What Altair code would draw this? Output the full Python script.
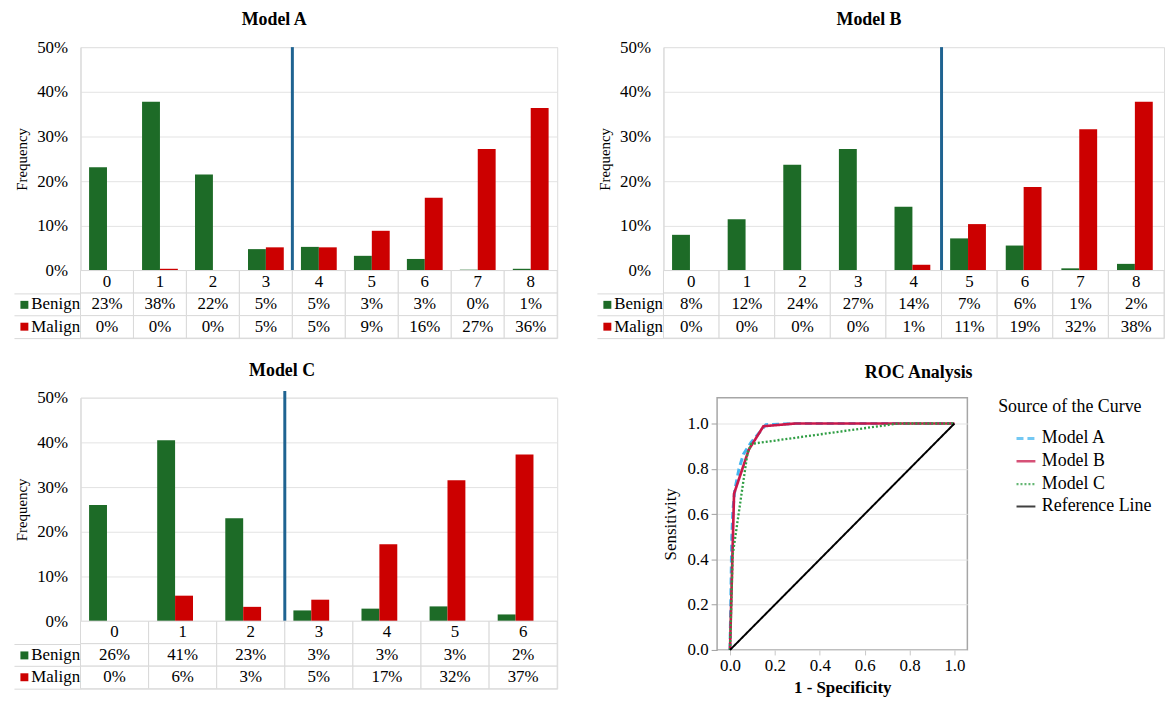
import altair as alt
import pandas as pd

FONT = "Liberation Serif"
GREEN = "#1d6b27"
RED = "#cc0000"
CUT_BLUE = "#1f6391"
GRID = "#e3e3e3"
BORDER = "#d9d9d9"

groups = ["Benign", "Malign"]
table_rows = ["hdr", "Benign", "Malign"]

# ---------------- Model A ----------------
a_cats = ["0", "1", "2", "3", "4", "5", "6", "7", "8"]
a_benign = [23.1, 37.8, 21.5, 4.8, 5.3, 3.3, 2.6, 0.2, 0.4]
a_malign = [0.0, 0.4, 0.0, 5.2, 5.2, 8.9, 16.3, 27.2, 36.4]
a_benign_lbl = ["23%", "38%", "22%", "5%", "5%", "3%", "3%", "0%", "1%"]
a_malign_lbl = ["0%", "0%", "0%", "5%", "5%", "9%", "16%", "27%", "36%"]
a_cut = "4"
a_cut_span = [0.5, -0.014]

# ---------------- Model B ----------------
b_cats = ["0", "1", "2", "3", "4", "5", "6", "7", "8"]
b_benign = [8.0, 11.5, 23.7, 27.2, 14.3, 7.2, 5.6, 0.5, 1.5]
b_malign = [0.0, 0.0, 0.0, 0.0, 1.3, 10.4, 18.7, 31.6, 37.8]
b_benign_lbl = ["8%", "12%", "24%", "27%", "14%", "7%", "6%", "1%", "2%"]
b_malign_lbl = ["0%", "0%", "0%", "0%", "1%", "11%", "19%", "32%", "38%"]
b_cut = "5"
b_cut_span = [0.5, -0.012]

# ---------------- Model C ----------------
c_cats = ["0", "1", "2", "3", "4", "5", "6"]
c_benign = [26.0, 40.5, 23.0, 2.4, 2.8, 3.3, 1.5]
c_malign = [0.0, 5.7, 3.2, 4.8, 17.2, 31.5, 37.3]
c_benign_lbl = ["26%", "41%", "23%", "3%", "3%", "3%", "2%"]
c_malign_lbl = ["0%", "6%", "3%", "5%", "17%", "32%", "37%"]
c_cut = "3"
c_cut_span = [0.515, -0.016]

# ---------------- ROC ----------------
roc_models = ["Model A", "Model B", "Model C", "Reference Line"]
roc_a_fpr = [0.0, 0.008, 0.013, 0.022, 0.04, 0.06, 0.093, 0.16, 0.30, 1.0]
roc_a_tpr = [0.0, 0.50, 0.62, 0.71, 0.80, 0.865, 0.915, 0.995, 1.0, 1.0]
roc_b_fpr = [0.0, 0.018, 0.084, 0.149, 0.29, 1.0]
roc_b_tpr = [0.0, 0.69, 0.885, 0.988, 1.0, 1.0]
roc_c_fpr = [0.0, 0.012, 0.05, 0.078, 0.095, 0.75, 1.0]
roc_c_tpr = [0.0, 0.42, 0.68, 0.87, 0.91, 1.0, 1.0]
roc_r_fpr = [0.0, 1.0]
roc_r_tpr = [0.0, 1.0]
roc_colors = ["#45b6f0", "#c9184a", "#2f9e44", "#000000"]

TABLE_H = 68


def bar_panel(title, cats, benign, malign, ben_lbl, mal_lbl, cut, cut_span, width, dx):
    n = len(cats)
    bar_df = pd.DataFrame({
        "cat": cats * 2,
        "grp": ["Benign"] * n + ["Malign"] * n,
        "val": [v / 100 for v in benign] + [v / 100 for v in malign],
    })
    xs = alt.Scale(domain=cats, paddingInner=0, paddingOuter=0)
    yaxis = alt.Axis(
        format=".0%", values=[0, 0.1, 0.2, 0.3, 0.4, 0.5], title="Frequency",
        titleFont=FONT, titleFontSize=15, titleFontWeight="normal", titleColor="black",
        titlePadding=7, labelFont=FONT, labelFontSize=17, labelColor="black",
        labelPadding=13, ticks=False, domain=True, domainColor=BORDER,
        grid=True, gridColor=GRID,
    )
    ys = alt.Scale(domain=[0, 0.5], nice=False)
    bars = alt.Chart(bar_df).mark_bar().encode(
        x=alt.X("cat:N", scale=xs, axis=None, sort=cats),
        xOffset=alt.XOffset("grp:N", scale=alt.Scale(domain=groups, paddingInner=0, paddingOuter=0.48)),
        y=alt.Y("val:Q", scale=ys, axis=yaxis, title="Frequency"),
        color=alt.Color("grp:N", scale=alt.Scale(domain=groups, range=[GREEN, RED]), legend=None),
    )
    cut_df = pd.DataFrame({"cat": [cut], "top": [cut_span[0]], "bottom": [cut_span[1]]})
    rule = alt.Chart(cut_df).mark_rule(color=CUT_BLUE, strokeWidth=3).encode(
        x=alt.X("cat:N", scale=xs, axis=None, sort=cats, bandPosition=0),
        y=alt.Y("top:Q", scale=ys, axis=yaxis, title="Frequency"),
        y2="bottom:Q",
    )
    top = alt.layer(bars, rule).properties(
        width=width, height=225,
        title=alt.TitleParams(title, font=FONT, fontSize=18, fontWeight="bold", color="black",
                              anchor="middle", frame="group", dx=dx, offset=9),
    )

    tdf = pd.DataFrame({
        "cat": cats * 3,
        "row": ["hdr"] * n + ["Benign"] * n + ["Malign"] * n,
        "txt": cats + ben_lbl + mal_lbl,
    })
    tys = alt.Scale(domain=table_rows, paddingInner=0, paddingOuter=0)
    cells = alt.Chart(tdf).mark_rect(fill="white", stroke=BORDER, strokeWidth=1).encode(
        x=alt.X("cat:N", scale=xs, axis=None, sort=cats),
        y=alt.Y("row:N", sort=table_rows, scale=tys,
                axis=alt.Axis(values=["Benign", "Malign"], title=None, domain=False, grid=False,
                              offset=53, tickSize=8, tickWidth=8,
                              tickColor=alt.condition("datum.value == 'Benign'", alt.value(GREEN), alt.value(RED)),
                              labelAlign="left", labelPadding=-11, labelFont=FONT,
                              labelFontSize=17, labelColor="black")),
    )
    texts = alt.Chart(tdf).mark_text(font=FONT, fontSize=17, color="black").encode(
        x=alt.X("cat:N", scale=xs, axis=None, sort=cats),
        y=alt.Y("row:N", sort=table_rows, scale=tys,
                axis=alt.Axis(orient="left", values=table_rows, title=None, labels=False,
                              domain=False, grid=False, offset=0, tickSize=67, tickWidth=1,
                              tickColor=BORDER, tickOffset=TABLE_H / 6)),
        text="txt:N",
    )
    table = alt.layer(cells, texts).resolve_axis(y="independent").properties(
        width=width, height=TABLE_H)
    return alt.vconcat(top, table, spacing=0, bounds="flush").resolve_scale(color="independent")


panel_a = bar_panel("Model A", a_cats, a_benign, a_malign, a_benign_lbl, a_malign_lbl,
                    a_cut, a_cut_span, 480, -45)
panel_b = bar_panel("Model B", b_cats, b_benign, b_malign, b_benign_lbl, b_malign_lbl,
                    b_cut, b_cut_span, 504, -45)
panel_c = bar_panel("Model C", c_cats, c_benign, c_malign, c_benign_lbl, c_malign_lbl,
                    c_cut, c_cut_span, 480, -37)

roc_rows = []
for name, fx, fy in [("Model A", roc_a_fpr, roc_a_tpr), ("Model B", roc_b_fpr, roc_b_tpr),
                     ("Model C", roc_c_fpr, roc_c_tpr), ("Reference Line", roc_r_fpr, roc_r_tpr)]:
    for i, (a, b) in enumerate(zip(fx, fy)):
        roc_rows.append({"model": name, "fpr": a, "tpr": b, "i": i})
roc_df = pd.DataFrame(roc_rows)

leg = alt.Legend(title="Source of the Curve", titleFont=FONT, titleFontSize=18,
                 titleFontWeight="normal", titleColor="black", labelFont=FONT, labelFontSize=18,
                 labelColor="black", symbolType="stroke", symbolSize=361, symbolStrokeWidth=2,
                 symbolOffset=17, symbolOpacity=0.75, offset=31, rowPadding=3, titlePadding=12,
                 labelOffset=5, orient="right")

roc = alt.Chart(roc_df).mark_line().encode(
    x=alt.X("fpr:Q", scale=alt.Scale(domain=[-0.0575, 1.0575], nice=False, zero=False),
            axis=alt.Axis(values=[0, 0.2, 0.4, 0.6, 0.8, 1.0], format=".1f", title="1 - Specificity",
                          titleFont=FONT, titleFontSize=17, titleFontWeight="bold", titleColor="black",
                          labelFont=FONT, labelFontSize=17, labelColor="black", grid=False,
                          domain=False, tickColor="#c8c8c8", tickSize=5, labelPadding=3, titlePadding=6)),
    y=alt.Y("tpr:Q", scale=alt.Scale(domain=[0, 1.114], nice=False),
            axis=alt.Axis(values=[0, 0.2, 0.4, 0.6, 0.8, 1.0], format=".1f", title="Sensitivity",
                          titleFont=FONT, titleFontSize=17, titleFontWeight="normal", titleColor="black",
                          labelFont=FONT, labelFontSize=17, labelColor="black", grid=True,
                          gridColor=GRID, domain=False, tickColor="#a0a0a0", tickSize=6,
                          labelPadding=3, titlePadding=8)),
    color=alt.Color("model:N", scale=alt.Scale(domain=roc_models, range=roc_colors), legend=leg),
    strokeDash=alt.StrokeDash("model:N", scale=alt.Scale(domain=roc_models,
                              range=[[7, 4], [1, 0], [2, 2], [1, 0]]), legend=leg),
    strokeWidth=alt.StrokeWidth("model:N", scale=alt.Scale(domain=roc_models, range=[3, 2, 2, 2]),
                                legend=None),
    order="i:Q",
).properties(
    width=252, height=254,
    view=alt.ViewBackground(stroke="#a6a6a6", strokeWidth=1.5),
    title=alt.TitleParams("ROC Analysis", font=FONT, fontSize=18, fontWeight="bold", color="black",
                          anchor="middle", frame="group", dx=77, offset=16),
)

indep = dict(color="independent", strokeDash="independent", strokeWidth="independent")
row1 = alt.hconcat(panel_a, panel_b, spacing=38).resolve_scale(**indep).resolve_legend(
    color="independent", strokeDash="independent")
row2 = alt.hconcat(panel_c, roc, spacing=103).resolve_scale(**indep).resolve_legend(
    color="independent", strokeDash="independent")
chart = alt.vconcat(row1, row2, spacing=22).resolve_scale(**indep).resolve_legend(
    color="independent", strokeDash="independent").properties(
    padding={"left": 5, "top": 0, "right": 0, "bottom": 0}
).configure_view(stroke=None).configure(background="white", font=FONT)

chart.save("out.html", embed_options={"renderer": "svg", "actions": False})
